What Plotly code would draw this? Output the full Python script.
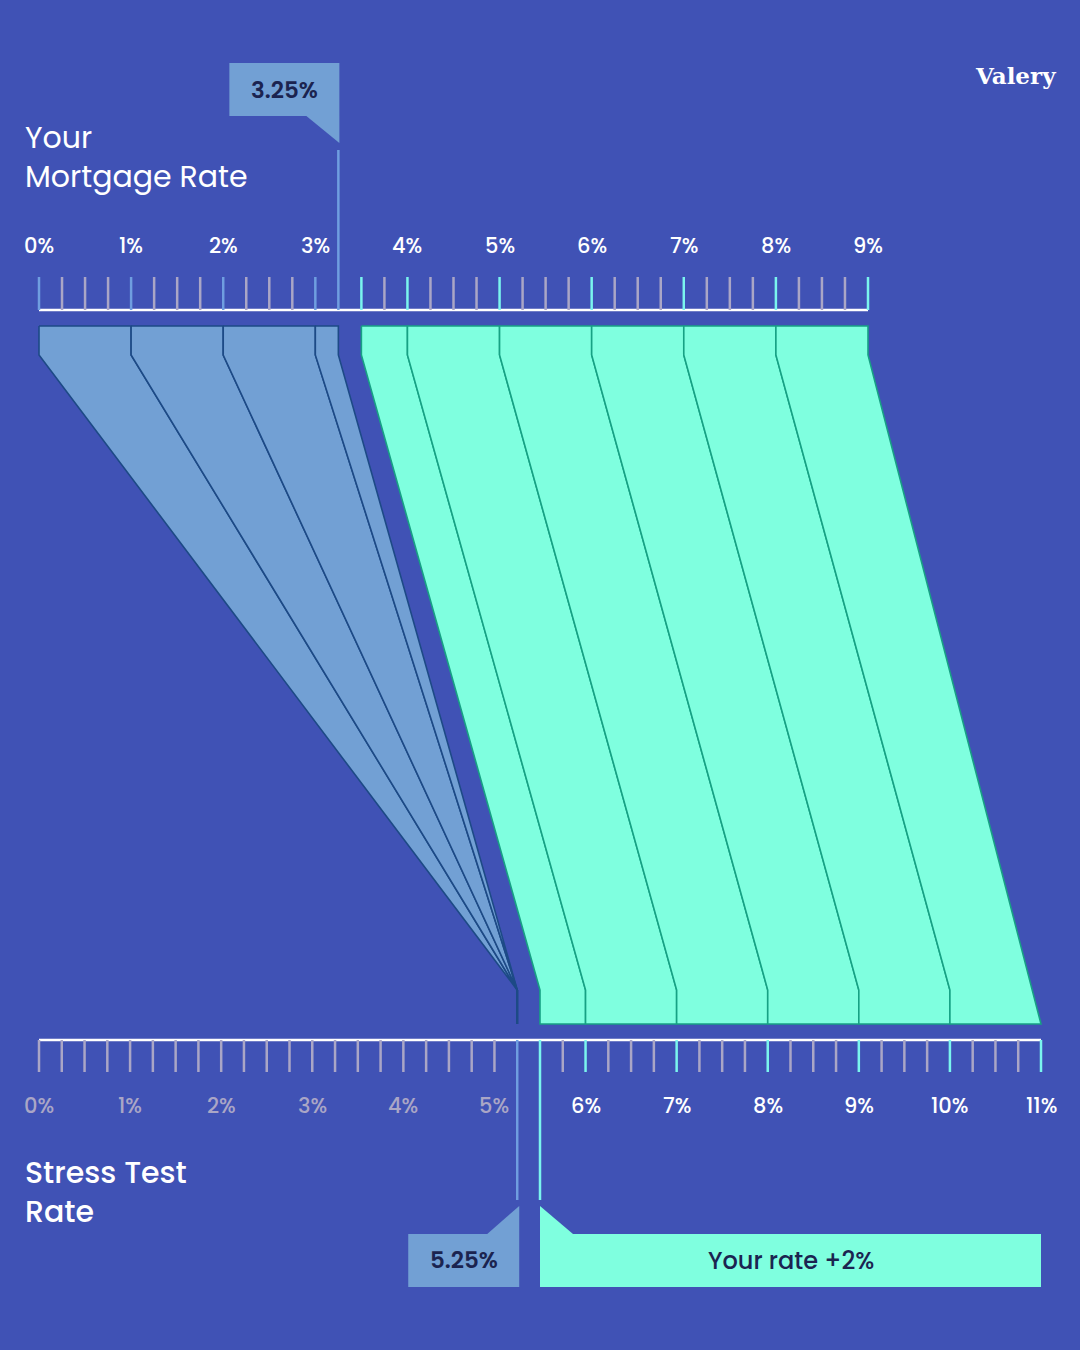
import numpy as np
import plotly.graph_objects as go

# ---------------- data ----------------
top_tick_labels = ["0%", "1%", "2%", "3%", "4%", "5%", "6%", "7%", "8%", "9%"]
top_tick_values = [0, 1, 2, 3, 4, 5, 6, 7, 8, 9]
bottom_tick_labels = ["0%", "1%", "2%", "3%", "4%", "5%", "6%", "7%", "8%", "9%", "10%", "11%"]
bottom_tick_values = [0, 1, 2, 3, 4, 5, 6, 7, 8, 9, 10, 11]

your_rate = 3.25
stress_floor = 5.25
first_plus_two_rate = 3.5

# band edges on "your mortgage rate" scale and where they land on stress-test scale
blue_edges_top = [0, 1, 2, 3, 3.25]
blue_edges_bottom = [5.25, 5.25, 5.25, 5.25, 5.25]
green_edges_top = [3.5, 4, 5, 6, 7, 8, 9]
green_edges_bottom = [5.5, 6, 7, 8, 9, 10, 11]

minor_step = 0.25

# ---------------- style ----------------
BG = "#4052b5"
BLUE = "#72a0d4"
BLUE_LINE = "#1d4a86"
GREEN = "#7fffdf"
GREEN_LINE = "#17a184"
GRAY_TICK = "#aaa6c6"
CYAN_TICK = "#7af5ee"
BLUE_TICK = "#6f9ee0"
DARK_TEXT = "#1b2450"
FONT = "Poppins, Inter, Open Sans, sans-serif"

# scale geometry (pixel positions of the two rate scales)
TOP_X0, TOP_X1, TOP_MAX = 39, 868, 9
BOT_X0, BOT_X1, BOT_MAX = 39, 1041, 11


def top_px(r):
    return TOP_X0 + r * (TOP_X1 - TOP_X0) / TOP_MAX


def bot_px(r):
    return BOT_X0 + r * (BOT_X1 - BOT_X0) / BOT_MAX


Y_TOP_BASE = 310
Y_TOP_TICK = 277
Y_FLOW_TOP = 326
Y_KNEE_TOP = 355
Y_KNEE_BOT = 990
Y_FLOW_BOT = 1024
Y_BOT_BASE = 1040
Y_BOT_TICK = 1072

fig = go.Figure()


def add_poly(xs, ys, fill, line, width=1.6):
    fig.add_trace(go.Scatter(x=xs, y=ys, mode="lines", fill="toself", fillcolor=fill,
                             line=dict(color=line, width=width), hoverinfo="skip",
                             showlegend=False))


def add_lines(segs, color, width):
    xs, ys = [], []
    for (x0, y0, x1, y1) in segs:
        xs += [x0, x1, None]
        ys += [y0, y1, None]
    fig.add_trace(go.Scatter(x=xs, y=ys, mode="lines", line=dict(color=color, width=width),
                             hoverinfo="skip", showlegend=False))


# ---------------- flow bands ----------------
for i in range(len(blue_edges_top) - 1):
    a, b = top_px(blue_edges_top[i]), top_px(blue_edges_top[i + 1])
    ab, bb = bot_px(blue_edges_bottom[i]), bot_px(blue_edges_bottom[i + 1])
    xs = [a, b, b, bb, ab, a, a]
    ys = [Y_FLOW_TOP, Y_FLOW_TOP, Y_KNEE_TOP, Y_KNEE_BOT, Y_KNEE_BOT, Y_KNEE_TOP, Y_FLOW_TOP]
    add_poly(xs, ys, BLUE, BLUE_LINE)
add_lines([(bot_px(stress_floor), Y_KNEE_BOT, bot_px(stress_floor), Y_FLOW_BOT)], BLUE_LINE, 2.5)

n = len(green_edges_top)
for i in range(n - 1):
    a, b = top_px(green_edges_top[i]), top_px(green_edges_top[i + 1])
    ab, bb = bot_px(green_edges_bottom[i]), bot_px(green_edges_bottom[i + 1])
    if i == n - 2:
        xs = [a, b, b, bb, ab, ab, a, a]
        ys = [Y_FLOW_TOP, Y_FLOW_TOP, Y_KNEE_TOP, Y_FLOW_BOT, Y_FLOW_BOT, Y_KNEE_BOT,
              Y_KNEE_TOP, Y_FLOW_TOP]
    else:
        xs = [a, b, b, bb, bb, ab, ab, a, a]
        ys = [Y_FLOW_TOP, Y_FLOW_TOP, Y_KNEE_TOP, Y_KNEE_BOT, Y_FLOW_BOT, Y_FLOW_BOT,
              Y_KNEE_BOT, Y_KNEE_TOP, Y_FLOW_TOP]
    add_poly(xs, ys, GREEN, GREEN_LINE)

# ---------------- top scale ----------------
add_lines([(top_px(0), Y_TOP_BASE, top_px(TOP_MAX), Y_TOP_BASE)], "white", 2.5)
gray, blue, cyan = [], [], []
for r in np.arange(0, TOP_MAX + 1e-9, minor_step):
    r = round(float(r), 2)
    if r == your_rate:
        continue
    seg = (top_px(r), Y_TOP_TICK, top_px(r), Y_TOP_BASE)
    if r < your_rate:
        (blue if r == int(r) else gray).append(seg)
    else:
        (cyan if (r == int(r) or r == first_plus_two_rate) else gray).append(seg)
add_lines(gray, GRAY_TICK, 2.5)
add_lines(blue, BLUE_TICK, 2.5)
add_lines(cyan, CYAN_TICK, 2.5)
add_lines([(top_px(your_rate), 150, top_px(your_rate), Y_TOP_BASE)], BLUE_TICK, 2.5)

# ---------------- bottom scale ----------------
add_lines([(bot_px(0), Y_BOT_BASE, bot_px(BOT_MAX), Y_BOT_BASE)], "white", 2.5)
gray, cyan = [], []
for r in np.arange(0, BOT_MAX + 1e-9, minor_step):
    r = round(float(r), 2)
    if r in (stress_floor, green_edges_bottom[0]):
        continue
    seg = (bot_px(r), Y_BOT_BASE, bot_px(r), Y_BOT_TICK)
    if r < stress_floor:
        gray.append(seg)
    else:
        (cyan if r == int(r) else gray).append(seg)
add_lines(gray, GRAY_TICK, 2.5)
add_lines(cyan, CYAN_TICK, 2.5)
add_lines([(bot_px(stress_floor), Y_BOT_BASE, bot_px(stress_floor), 1200)], BLUE_TICK, 2.5)
add_lines([(bot_px(green_edges_bottom[0]), Y_BOT_BASE, bot_px(green_edges_bottom[0]), 1200)],
          CYAN_TICK, 2.5)

# ---------------- callouts ----------------
rx = top_px(your_rate) + 1
shapes = [
    dict(type="rect", x0=rx - 110, x1=rx, y0=63, y1=116, fillcolor=BLUE, line_width=0,
         xref="x", yref="y"),
    dict(type="path", path=f"M {rx-33},116 L {rx},116 L {rx},143 Z", fillcolor=BLUE,
         line_width=0, xref="x", yref="y"),
]
sx = bot_px(stress_floor) + 2
shapes += [
    dict(type="rect", x0=sx - 111, x1=sx, y0=1234, y1=1287, fillcolor=BLUE, line_width=0,
         xref="x", yref="y"),
    dict(type="path", path=f"M {sx-32},1234 L {sx},1234 L {sx},1206 Z", fillcolor=BLUE,
         line_width=0, xref="x", yref="y"),
]
gx0 = bot_px(green_edges_bottom[0])
gx1 = bot_px(BOT_MAX)
shapes += [
    dict(type="rect", x0=gx0, x1=gx1, y0=1234, y1=1287, fillcolor=GREEN, line_width=0,
         xref="x", yref="y"),
    dict(type="path", path=f"M {gx0},1206 L {gx0},1234 L {gx0+33},1234 Z", fillcolor=GREEN,
         line_width=0, xref="x", yref="y"),
]

annotations = []


def ann(x, y, text, size, color, xanchor="center", yanchor="middle", family=FONT,
        weight=None):
    f = dict(size=size, color=color, family=family)
    if weight is not None:
        f["weight"] = weight
    annotations.append(dict(x=x, y=y, xref="x", yref="y", text=text, showarrow=False,
                            xanchor=xanchor, yanchor=yanchor, font=f, align="left"))


for v, lab in zip(top_tick_values, top_tick_labels):
    ann(top_px(v), 245, lab, 21, "white", weight=500)
for v, lab in zip(bottom_tick_values, bottom_tick_labels):
    ann(bot_px(v), 1105, lab, 21, GRAY_TICK if v < stress_floor else "white", weight=500)

ann(rx - 55, 90, f"{your_rate:.2f}%", 23, DARK_TEXT, weight=600)
ann(sx - 55.5, 1260, f"{stress_floor:.2f}%", 23, DARK_TEXT, weight=600)
ann((gx0 + gx1) / 2, 1260, "Your rate +2%", 24, DARK_TEXT, weight=500)

ann(23, 157, "Your<br>Mortgage Rate", 30, "white", xanchor="left")
ann(23, 1192, "Stress Test<br>Rate", 30, "white", xanchor="left", weight=500)
ann(1015, 75, "Valery", 23, "white", family="DejaVu Serif, Liberation Serif, serif",
    weight=700)

fig.update_layout(
    width=1080, height=1350,
    margin=dict(l=0, r=0, t=0, b=0),
    paper_bgcolor=BG, plot_bgcolor=BG,
    xaxis=dict(range=[0, 1080], visible=False, fixedrange=True),
    yaxis=dict(range=[1350, 0], visible=False, fixedrange=True),
    shapes=shapes, annotations=annotations, showlegend=False,
)

fig.write_html("out.html", config={"displayModeBar": False},
               post_script="document.body.style.margin='0';"
                           "document.body.style.overflow='hidden';"
                           "document.body.style.background='" + BG + "';")
